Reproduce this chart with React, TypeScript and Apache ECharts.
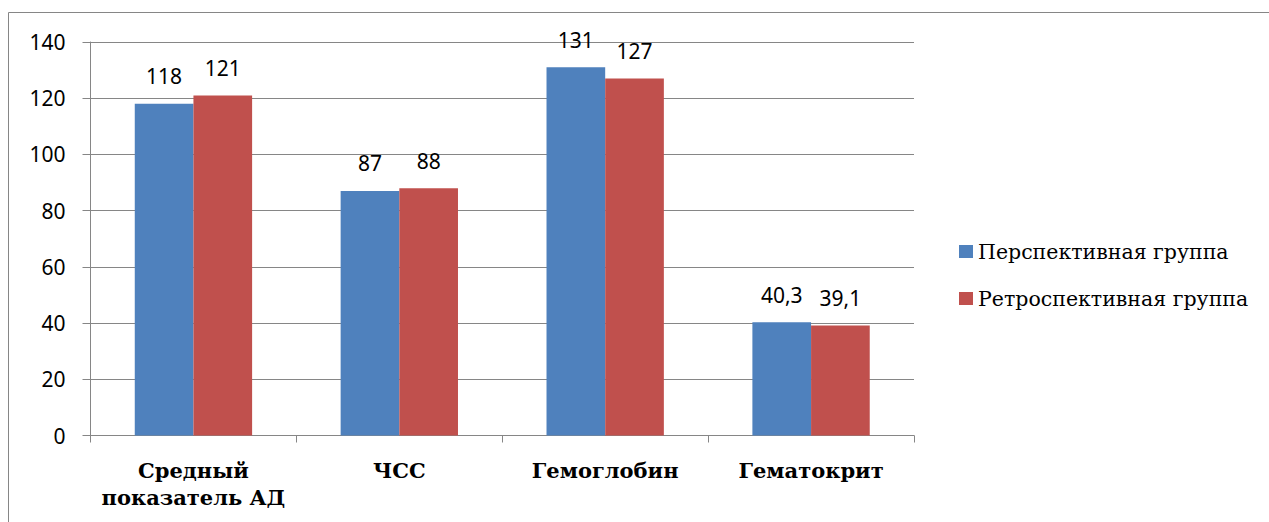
import React, { useEffect, useRef } from "react";
import * as echarts from "echarts";

const categories = ["Средный\nпоказатель АД", "ЧСС", "Гемоглобин", "Гематокрит"];
const prospective = [118, 87, 131, 40.3];
const retrospective = [121, 88, 127, 39.1];
const seriesNames = ["Перспективная группа", "Ретроспективная группа"];
const yTicks = { min: 0, max: 140, interval: 20 };

const formatValue = (v: number) => String(v).replace(".", ",");
const SANS = "Noto Sans";
const SERIF = "DejaVu Serif";

export default function App() {
  const ref = useRef<HTMLDivElement>(null);

  useEffect(() => {
    if (!ref.current) return;
    const chart = echarts.init(ref.current, null, { renderer: "svg" });
    const gridColor = "#868686";
    const labelStyle = {
      show: true,
      position: "top" as const,
      distance: 17,
      color: "#000",
      fontFamily: SANS,
      fontSize: 21,
      formatter: (p: any) => formatValue(p.value),
    };
    chart.setOption({
      animation: false,
      backgroundColor: "#fff",
      graphic: [
        {
          type: "rect",
          shape: { x: 8.5, y: 12.5, width: 1300, height: 600 },
          style: { fill: "none", stroke: gridColor, lineWidth: 1 },
          silent: true,
        },
      ],
      grid: { left: 90.5, top: 42, right: 355, bottom: 86.5, containLabel: false },
      legend: {
        orient: "vertical",
        left: 954,
        top: 236,
        itemWidth: 14,
        itemHeight: 13,
        itemGap: 26,
        icon: "rect",
        textStyle: { fontFamily: SERIF, fontSize: 20.5, color: "#000" },
        data: seriesNames,
      },
      xAxis: {
        type: "category",
        data: categories,
        axisLine: { lineStyle: { color: gridColor, width: 1 } },
        axisTick: { show: true, length: 7, lineStyle: { color: gridColor } },
        axisLabel: {
          interval: 0,
          margin: 21,
          color: "#000",
          fontFamily: SERIF,
          fontWeight: "bold",
          fontSize: 21,
          lineHeight: 27,
        },
      },
      yAxis: {
        type: "value",
        min: yTicks.min,
        max: yTicks.max,
        interval: yTicks.interval,
        axisLine: { show: true, lineStyle: { color: gridColor, width: 1 } },
        axisTick: { show: true, length: 8, lineStyle: { color: gridColor } },
        splitLine: { show: true, lineStyle: { color: gridColor, width: 1 } },
        axisLabel: {
          margin: 25,
          color: "#000",
          fontFamily: SANS,
          fontSize: 21,
        },
      },
      series: [
        {
          name: seriesNames[0],
          type: "bar",
          data: prospective,
          barGap: "0%",
          barCategoryGap: "43%",
          itemStyle: { color: "#4F81BD" },
          label: labelStyle,
        },
        {
          name: seriesNames[1],
          type: "bar",
          data: retrospective,
          barGap: "0%",
          barCategoryGap: "43%",
          itemStyle: { color: "#C0504D" },
          label: labelStyle,
        },
      ],
    });
    return () => chart.dispose();
  }, []);

  return (
    <div
      ref={ref}
      style={{ position: "absolute", left: 0, top: 0, width: 1269, height: 522 }}
    />
  );
}
